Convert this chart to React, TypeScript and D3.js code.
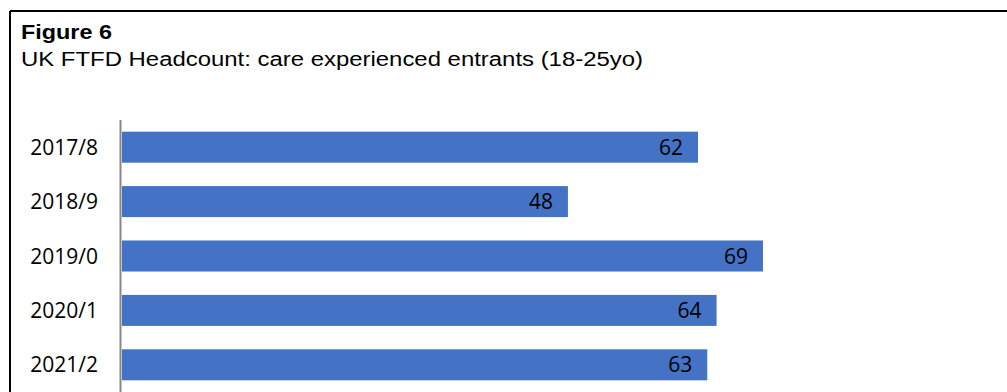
import React from "react";
import * as d3 from "d3";

const categories = ["2017/8", "2018/9", "2019/0", "2020/1", "2021/2"];
const values = [62, 48, 69, 64, 63];
const titleText = "Figure 6";
const subtitleText = "UK FTFD Headcount: care experienced entrants (18-25yo)";

export default function App() {
  const W = 1007;
  const H = 392;
  const x = d3.scaleLinear().domain([0, 100]).range([122, 122 + 929]);
  const y = d3
    .scaleBand<string>()
    .domain(categories)
    .range([120, 120 + 5 * 54.4])
    .paddingInner(0.43)
    .paddingOuter(0.215);
  const labelFont = "'Open Sans', 'Noto Sans', sans-serif";
  return (
    <svg
      width={W}
      height={H}
      style={{ position: "absolute", left: 0, top: 0, background: "#fff" }}
    >
      <rect x={0} y={0} width={W} height={H} fill="#fff" />
      {/* frame */}
      <line x1={10} y1={11} x2={W + 5} y2={11} stroke="#000" strokeWidth={2} />
      <line x1={10} y1={11} x2={10} y2={H + 5} stroke="#000" strokeWidth={2} />
      <text
        x={21}
        y={38.5}
        fontFamily="'Liberation Sans', Arial, sans-serif"
        fontWeight="bold"
        fontSize={21}
        textLength={91}
        lengthAdjust="spacingAndGlyphs"
        fill="#000"
      >
        {titleText}
      </text>
      <text
        x={21}
        y={66}
        fontFamily="'Liberation Sans', Arial, sans-serif"
        fontSize={20}
        textLength={622}
        lengthAdjust="spacingAndGlyphs"
        fill="#000"
      >
        {subtitleText}
      </text>
      {categories.map((c, i) => (
        <g key={c}>
          <rect
            x={x(0)}
            y={y(c)!}
            width={x(values[i]) - x(0)}
            height={y.bandwidth()}
            fill="#4472C4"
          />
          <text
            x={x(values[i]) - 15}
            y={y(c)! + y.bandwidth() / 2}
            dy="0.36em"
            textAnchor="end"
            fontFamily={labelFont}
            fontSize={21}
            fill="#000"
          >
            {values[i]}
          </text>
          <text
            x={98}
            y={y(c)! + y.bandwidth() / 2}
            dy="0.36em"
            textAnchor="end"
            fontFamily={labelFont}
            fontSize={21}
            fill="#000"
          >
            {c}
          </text>
        </g>
      ))}
      <line x1={120.5} y1={120} x2={120.5} y2={H + 5} stroke="#888" strokeWidth={2} />
    </svg>
  );
}
